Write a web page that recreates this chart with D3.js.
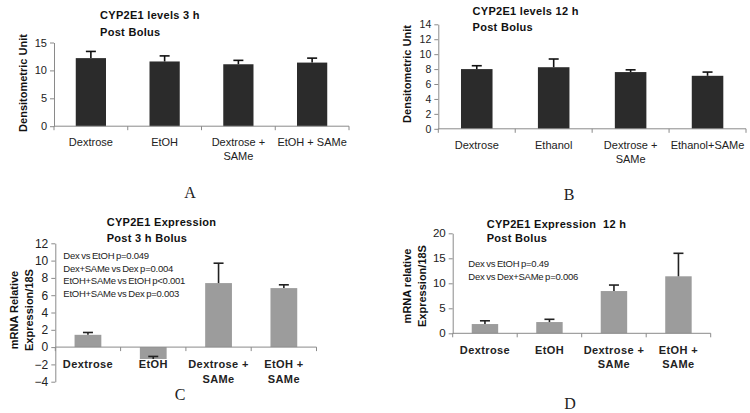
<!DOCTYPE html>
<html><head><meta charset="utf-8">
<script src="https://cdn.jsdelivr.net/npm/d3@7"></script>
<style>
body{margin:0;background:#fff;}
svg{display:block;font-family:"Liberation Sans",Arial,sans-serif;}
</style></head>
<body><svg id="c" width="750" height="413"></svg>
<script>
// ---- data ----
const categoriesA = ["Dextrose", "EtOH", "Dextrose +|SAMe", "EtOH + SAMe"];
const valuesA = [12.2, 11.6, 11.1, 11.4];
const errorsA = [1.2, 1.0, 0.7, 0.8];
const ticksA = [0, 5, 10, 15];

const categoriesB = ["Dextrose", "Ethanol", "Dextrose +|SAMe", "Ethanol+SAMe"];
const valuesB = [8.0, 8.25, 7.6, 7.1];
const errorsB = [0.45, 1.1, 0.3, 0.5];
const ticksB = [0, 2, 4, 6, 8, 10, 12, 14];

const categoriesC = ["Dextrose", "EtOH", "Dextrose +|SAMe", "EtOH +|SAMe"];
const valuesC = [1.42, -1.38, 7.4, 6.82];
const errorsC = [0.27, 0.3, 2.3, 0.38];
const ticksC = [-4, -2, 0, 2, 4, 6, 8, 10, 12];
const notesC = ["Dex vs EtOH p=0.049", "Dex+SAMe vs Dex p=0.004", "EtOH+SAMe vs EtOH p<0.001", "EtOH+SAMe vs Dex p=0.003"];

const categoriesD = ["Dextrose", "EtOH", "Dextrose +|SAMe", "EtOH +|SAMe"];
const valuesD = [1.85, 2.25, 8.45, 11.4];
const errorsD = [0.65, 0.55, 1.2, 4.6];
const ticksD = [0, 5, 10, 15, 20];
const notesD = ["Dex vs EtOH p=0.49", "Dex vs Dex+SAMe p=0.006"];

const svg = d3.select("#c");

function panel(o) {
  const g = svg.append("g");
  const x = d3.scaleBand().domain(o.cats).range([o.x0, o.x1]).paddingInner(0.59).paddingOuter(0.295);
  const y = d3.scaleLinear().domain(o.domain).range([o.yBottom, o.yTop]);
  const axisCol = "#8a8a8a";
  // bars
  g.selectAll("rect.bar").data(o.vals).join("rect")
    .attr("x", (d, i) => x(o.cats[i]))
    .attr("width", x.bandwidth())
    .attr("y", d => y(Math.max(0, d)))
    .attr("height", d => Math.abs(y(d) - y(0)))
    .attr("fill", o.barColor);
  // error bars
  const eg = g.append("g").attr("stroke", o.errColor).attr("stroke-width", 1.6);
  o.vals.forEach((v, i) => {
    const cx = x(o.cats[i]) + x.bandwidth() / 2;
    const top = v + o.errs[i];
    eg.append("line").attr("x1", cx).attr("x2", cx).attr("y1", y(v)).attr("y2", y(top));
    eg.append("line").attr("x1", cx - 5).attr("x2", cx + 5).attr("y1", y(top)).attr("y2", y(top));
  });
  // y axis
  const ya = d3.axisLeft(y).tickValues(o.ticks).tickSize(4).tickSizeOuter(0).tickPadding(3);
  const yg = g.append("g").attr("transform", `translate(${o.x0},0)`).call(ya);
  yg.select(".domain").attr("stroke", axisCol);
  yg.selectAll(".tick line").attr("stroke", axisCol);
  yg.selectAll(".tick text").attr("fill", "#222").style("font-size", o.tickFont + "px").style("font-family", "'Liberation Sans',Arial,sans-serif");
  // x axis line at 0
  const y0 = y(0);
  g.append("line").attr("x1", o.x0).attr("x2", o.x1).attr("y1", y0).attr("y2", y0).attr("stroke", axisCol);
  const step = x.step();
  for (let k = 0; k <= o.cats.length; k++) {
    const tx = o.x0 + k * step;
    g.append("line").attr("x1", tx).attr("x2", tx).attr("y1", y0).attr("y2", y0 + 4).attr("stroke", axisCol);
  }
  // x labels
  o.cats.forEach((c, i) => {
    const cx = x(c) + x.bandwidth() / 2;
    c.split("|").forEach((line, j) => {
      g.append("text").attr("x", cx).attr("y", o.labelY + j * o.labelGap)
        .attr("text-anchor", "middle").attr("fill", "#222")
        .style("font-size", "11px").style("font-weight", o.labelBold ? "bold" : "normal")
        .style("letter-spacing", o.labelBold ? "0.4px" : "0")
        .text(line);
    });
  });
  // title
  o.title.forEach((t, j) => {
    g.append("text").attr("x", o.titleX).attr("y", o.titleY[j]).attr("fill", "#111")
      .style("white-space", "pre")
      .style("font-size", "11px").style("font-weight", "bold").style("letter-spacing", "0.3px").text(t);
  });
  // y label
  const yl = g.append("text").attr("transform", `translate(${o.ylabX},${o.ylabY}) rotate(-90)`)
    .attr("text-anchor", "middle").attr("fill", "#111")
    .style("font-size", "11px").style("font-weight", "bold");
  o.ylab.forEach((t, j) => {
    yl.append("tspan").attr("x", 0).attr("dy", j === 0 ? 0 : 15).text(t);
  });
  // notes
  (o.notes || []).forEach((t, j) => {
    g.append("text").attr("x", o.noteX).attr("y", o.noteY + j * o.noteGap).attr("fill", "#222")
      .style("font-size", "9.5px").style("letter-spacing", "-0.25px").style("word-spacing", "-0.6px").text(t);
  });
  // panel letter
  g.append("text").attr("x", o.letter[1]).attr("y", o.letter[2]).attr("text-anchor", "middle")
    .attr("fill", "#222").style("font-family", "'Liberation Serif','Times New Roman',serif").style("font-size", "16px")
    .text(o.letter[0]);
}

panel({cats: categoriesA, vals: valuesA, errs: errorsA, ticks: ticksA, domain: [0, 15], tickFont: 11,
  x0: 54, x1: 349, yBottom: 126.2, yTop: 42.5, barColor: "#2b2b2b", errColor: "#111",
  labelY: 145.5, labelGap: 14, labelBold: false,
  title: ["CYP2E1 levels 3 h", "Post Bolus"], titleX: 100, titleY: [19, 35.5],
  ylab: ["Densitometric Unit"], ylabX: 27, ylabY: 83, letter: ["A", 190, 198]});

panel({cats: categoriesB, vals: valuesB, errs: errorsB, ticks: ticksB, domain: [0, 14], tickFont: 10.5,
  x0: 438.3, x1: 746, yBottom: 128.8, yTop: 24.3, barColor: "#2b2b2b", errColor: "#111",
  labelY: 149, labelGap: 14, labelBold: false,
  title: ["CYP2E1 levels 12 h", "Post Bolus"], titleX: 472.5, titleY: [14.5, 30.5],
  ylab: ["Densitometric Unit"], ylabX: 410.5, ylabY: 74, letter: ["B", 569, 200]});

panel({cats: categoriesC, vals: valuesC, errs: errorsC, ticks: ticksC, domain: [-4, 12], tickFont: 12,
  x0: 55.3, x1: 316.5, yBottom: 381.7, yTop: 243.3, barColor: "#9c9c9c", errColor: "#222",
  labelY: 368, labelGap: 14.5, labelBold: true,
  title: ["CYP2E1 Expression", "Post 3 h Bolus"], titleX: 106.7, titleY: [226, 241.5],
  ylab: ["mRNA Relative", "Expression/18S"], ylabX: 17.5, ylabY: 310,
  notes: notesC, noteX: 63.3, noteY: 259, noteGap: 12.5, letter: ["C", 180, 400]});

panel({cats: categoriesD, vals: valuesD, errs: errorsD, ticks: ticksD, domain: [0, 20], tickFont: 11.5,
  x0: 452.7, x1: 710.7, yBottom: 333.3, yTop: 233.3, barColor: "#9c9c9c", errColor: "#222",
  labelY: 354, labelGap: 14, labelBold: true,
  title: ["CYP2E1 Expression  12 h", "Post Bolus"], titleX: 486.7, titleY: [227.5, 241.5],
  ylab: ["mRNA relative", "Expression/18S"], ylabX: 410.5, ylabY: 286,
  notes: notesD, noteX: 468.3, noteY: 266.5, noteGap: 13.5, letter: ["D", 570, 409]});
</script></body></html>
